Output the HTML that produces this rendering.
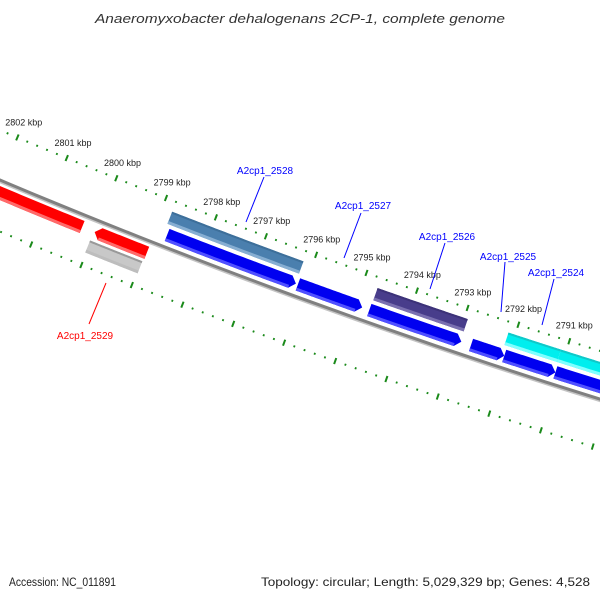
<!DOCTYPE html>
<html><head><meta charset="utf-8"><style>
body{margin:0;background:#fff;}
svg{display:block;font-family:"Liberation Sans","DejaVu Sans",sans-serif;}
</style></head><body>
<svg id="map" width="600" height="600" viewBox="0 0 600 600" xmlns="http://www.w3.org/2000/svg">
<rect x="0" y="0" width="600" height="600" fill="#fff"/>
<text x="95" y="23" textLength="410" lengthAdjust="spacingAndGlyphs" font-size="13" font-style="italic" fill="#333">Anaeromyxobacter dehalogenans 2CP-1, complete genome</text>
<g id="ticks"></g>
<g id="tracks"></g>
<g id="labels"></g>
<text x="9" y="586" textLength="107" lengthAdjust="spacingAndGlyphs" font-size="12" fill="#222">Accession: NC_011891</text>
<text x="261" y="586" textLength="329" lengthAdjust="spacingAndGlyphs" font-size="12" fill="#222">Topology: circular; Length: 5,029,329 bp; Genes: 4,528</text>
</svg>
<script>
// tick labels (kbp)
var tickLabels = [2791,2792,2793,2794,2795,2796,2797,2798,2799,2800,2801,2802];
// forward strand CDS (blue), start/end in kbp
var fwdStart = [2798.73, 2796.13, 2794.72, 2792.72, 2792.07, 2791.07];
var fwdEnd   = [2796.17, 2794.86, 2792.91, 2792.07, 2791.07, 2789.9];
// COG track features (inner)
var cogStart = [2798.80, 2794.71, 2792.13, 2791.10];
var cogEnd   = [2796.18, 2792.93, 2791.10, 2789.9];
var cogColor = ["#4a7fae", "#483d8b", "#00eeee", "#00eeee"];
// reverse strand CDS (red)
var revStart = [2802.8, 2800.00];
var revEnd   = [2800.25, 2798.96];
// gray track (outer)
var grayStart = [2800.02];
var grayEnd   = [2798.98];
// gene labels
var geneNames = ["A2cp1_2528","A2cp1_2527","A2cp1_2526","A2cp1_2525","A2cp1_2524","A2cp1_2529"];

var NS="http://www.w3.org/2000/svg";
var CX=2526, CY=-5808.5;
function ang(p){return (111.45+0.475*(p-2799))*Math.PI/180;}
function pt(p,r){var a=ang(p);return [CX+r*Math.cos(a), CY+r*Math.sin(a)];}
function arcPts(p1,p2,r){var out=[];var n=30;for(var i=0;i<=n;i++){out.push(pt(p1+(p2-p1)*i/n,r));}return out;}
function mk(tag,attrs,parent){var e=document.createElementNS(NS,tag);for(var k in attrs)e.setAttribute(k,attrs[k]);parent.appendChild(e);return e;}
function polyStr(a){return a.map(function(q){return q[0].toFixed(2)+","+q[1].toFixed(2);}).join(" ");}

var ticksG=document.getElementById('ticks');
var tracksG=document.getElementById('tracks');
var labelsG=document.getElementById('labels');

// backbone
var bb=mk('polyline',{points:polyStr(arcPts(2804,2788,6501.5)),fill:'none',stroke:'#c4c4c4','stroke-width':2},tracksG);


var bb2=mk('polyline',{points:polyStr(arcPts(2804,2788,6499.5)),fill:'none',stroke:'#808080','stroke-width':3},tracksG);



// ticks
[6453.5,6547].forEach(function(r,ri){
  for(var k=0;k<=70;k++){
    var p=2789+k*0.2;
    var major=(k%5===0);
    var a=pt(p,r-(major?3.2:1)), b=pt(p,r+(major?3.2:1));
    var t=mk('line',{x1:a[0],y1:a[1],x2:b[0],y2:b[1],stroke:'#1a8a1a','stroke-width':major?2:1.8},ticksG);
    
    
  }
});
tickLabels.forEach(function(v){
  var q=pt(v,6437);
  var t=mk('text',{x:q[0].toFixed(1),y:(q[1]+3).toFixed(1),'text-anchor':'middle','font-size':'9',fill:'#222'},ticksG);
  t.textContent=v+' kbp';
  
  
});

function band(p1,p2,rin,rout,color,light,head,name){
  var h=0.11, rm=(rin+rout)/2, pts=[];
  var a1=p1, a2=p2;
  if(head===1){a2=p2+h;} if(head===-1){a1=p1-h;}
  pts=pts.concat(arcPts(a1,a2,rin));
  if(head===1)pts.push(pt(p2,rm));
  pts=pts.concat(arcPts(a2,a1,rout));
  if(head===-1)pts.push(pt(p1,rm));
  var e=mk('polygon',{points:polyStr(pts),fill:color},tracksG);
  
  
  var rs=rout-3;
  var s=arcPts(a1,a2,rs).concat(arcPts(a2,a1,rout));
  var e2=mk('polygon',{points:polyStr(s),fill:light},tracksG);
  
  
}
for(var i=0;i<fwdStart.length;i++) band(fwdStart[i],fwdEnd[i],6481,6494,'#0000f0','#5050ff',fwdEnd[i]>2790?1:0,'forward-cds');
var cogLight={"#4a7fae":"#86aed2","#483d8b":"#7a70b0","#00eeee":"#80ffff"};
var cogDark={"#4a7fae":"#3d6f9a","#483d8b":"#3c3278","#00eeee":"#10c8c8"};
for(var i=0;i<cogStart.length;i++){band(cogStart[i],cogEnd[i],6464,6477,cogColor[i],cogLight[cogColor[i]],0,'cog-feature');
  var e=mk('polyline',{points:polyStr(arcPts(cogStart[i],cogEnd[i],6465)),fill:'none',stroke:cogDark[cogColor[i]],'stroke-width':2},tracksG);
  
  
}
for(var i=0;i<revStart.length;i++) band(revStart[i],revEnd[i],6505,6518,'#ff0000','#ff6a6a',i===1?-1:0,'reverse-cds');
for(var i=0;i<grayStart.length;i++){band(grayStart[i],grayEnd[i],6521,6534,'#c8c8c8','#bdbdbd',0,'gray-feature');
  var e=mk('polyline',{points:polyStr(arcPts(grayStart[i],grayEnd[i],6522)),fill:'none',stroke:'#999','stroke-width':2},tracksG);
  
  
}

// gene labels with leader lines
var labelPos=[[265,174,264,177,246,222],[363,209,361,213,344,258],[447,240,445,243,430,289],[508,260,505,262,501,312],[556,276,554,279,542,325],[85,339,106,283,89,324]];
geneNames.forEach(function(n,i){
  var L=labelPos[i], col=(i===5)?'#ff0000':'#0000ff';
  var ln=mk('line',{x1:L[2],y1:L[3],x2:L[4],y2:L[5],stroke:col,'stroke-width':1},labelsG);
  
  
  var t=mk('text',{x:L[0],y:L[1],'text-anchor':'middle','font-size':'10',fill:col},labelsG);
  t.textContent=n;
  
  
});
</script>
</body></html>
